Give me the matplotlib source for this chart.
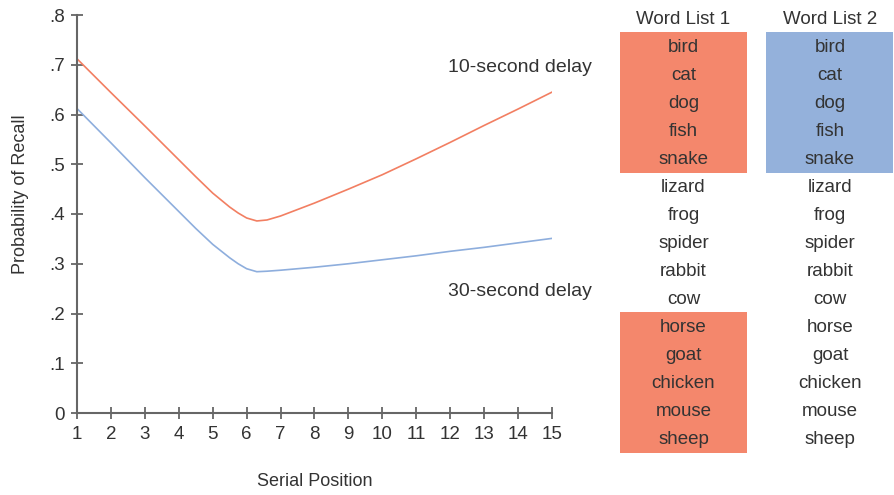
import matplotlib.pyplot as plt
from matplotlib.patches import Rectangle
from matplotlib import rcParams

rcParams['font.family'] = ['Liberation Sans', 'DejaVu Sans']

# serial position curves (x is serial position, y is probability of recall)
positions = [1, 2, 3, 4, 4.5, 5, 5.5, 5.75, 6, 6.3, 6.6, 7, 8, 9, 10, 11, 12, 13, 14, 15]
recall_10s = [0.712, 0.644, 0.577, 0.509, 0.475, 0.442, 0.414, 0.402, 0.392, 0.386, 0.388,
              0.396, 0.422, 0.450, 0.479, 0.511, 0.544, 0.578, 0.611, 0.645]
recall_30s = [0.612, 0.543, 0.473, 0.405, 0.371, 0.339, 0.312, 0.300, 0.290, 0.284, 0.285,
              0.287, 0.293, 0.300, 0.308, 0.316, 0.325, 0.333, 0.342, 0.351]

words = ["bird", "cat", "dog", "fish", "snake", "lizard", "frog", "spider",
         "rabbit", "cow", "horse", "goat", "chicken", "mouse", "sheep"]
list_titles = ["Word List 1", "Word List 2"]
# highlighted row ranges (first, last) for each list
highlight_1 = [(0, 4), (10, 14)]
highlight_2 = [(0, 4)]

RED = "#f4876c"
BLUE = "#94b1db"
TXT = "#333333"
AX = "#666666"

fig = plt.figure(figsize=(8.95, 4.95), dpi=100)

# --- curve panel ---
ax = fig.add_axes([77 / 895, 82 / 495, 475 / 895, 398 / 495])
ax.plot(positions, recall_10s, color="#f27f62", lw=1.2)
ax.plot(positions, recall_30s, color="#8eaedd", lw=1.2)
ax.set_xlim(1, 15)
ax.set_ylim(0, 0.8)
ax.set_xticks(range(1, 16))
ax.set_yticks([i / 10 for i in range(9)])
ax.set_yticklabels(["0"] + ["." + str(i) for i in range(1, 9)])
for s in ["top", "right"]:
    ax.spines[s].set_visible(False)
for s in ["left", "bottom"]:
    ax.spines[s].set_color(AX)
    ax.spines[s].set_linewidth(1.5)
    ax.spines[s].set_clip_on(False)
ax.tick_params(axis="both", direction="inout", length=9, width=1.3, color=AX,
               labelsize=13.5, labelcolor=TXT)
ax.tick_params(axis="x", pad=5)
ax.tick_params(axis="y", pad=4)
ax.set_xlabel("Serial Position", fontsize=13, color=TXT)
ax.set_ylabel("Probability of Recall", fontsize=13, color=TXT)
ax.xaxis.set_label_coords(0.5, -0.152)
ax.yaxis.set_label_coords(-0.10, 0.55)
ax.text(14.05, 0.695, "10-second delay", fontsize=14, color=TXT, ha="center", va="center")
ax.text(14.05, 0.245, "30-second delay", fontsize=14, color=TXT, ha="center", va="center")

# --- word lists, laid out in pixel coordinates ---
tab = fig.add_axes([0, 0, 1, 1], zorder=-1)
tab.set_xlim(0, 895)
tab.set_ylim(495, 0)
tab.axis("off")

col_x = [683.5, 830]
box_w = 127
row_top = 33
row_h = 28

for x, title, hl, color in zip(col_x, list_titles, [highlight_1, highlight_2], [RED, BLUE]):
    tab.text(x, 19, title, fontsize=13.5, color=TXT, ha="center", va="center")
    for first, last in hl:
        y0 = row_top + first * row_h - 1.5
        h = (last - first + 1) * row_h + 1
        tab.add_patch(Rectangle((x - box_w / 2, y0), box_w, h, facecolor=color, edgecolor="none"))
    for i, w in enumerate(words):
        tab.text(x, row_top + row_h * (i + 0.5), w, fontsize=13.5, color=TXT,
                 ha="center", va="center")

fig.savefig("out.png", dpi=100)
